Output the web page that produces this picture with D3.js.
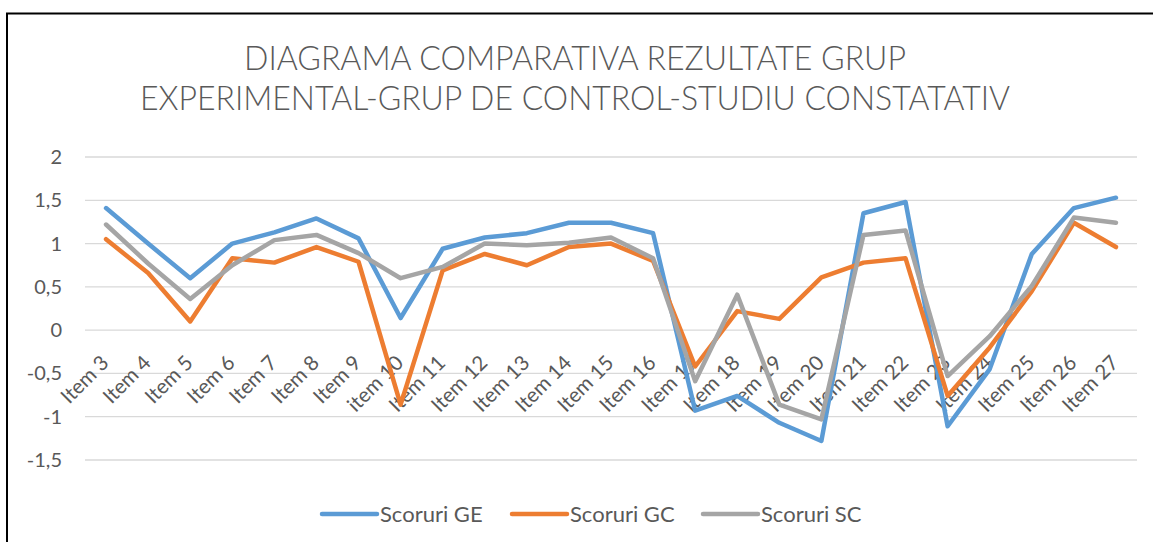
<!DOCTYPE html>
<html>
<head>
<meta charset="utf-8">
<script src="https://cdn.jsdelivr.net/npm/d3@7"></script>
<style>
  body { margin: 0; background: #fff; }
  text { font-family: Lato, "Open Sans", sans-serif; fill: #595959; }
</style>
</head>
<body>
<svg id="chart" width="1153" height="542"></svg>
<script>
const categories = ["Item 3", "Item 4", "Item 5", "Item 6", "Item 7", "Item 8", "Item 9", "item 10",
  "Item 11", "Item 12", "Item 13", "Item 14", "Item 15", "Item 16", "Item 17", "Item 18", "Item 19",
  "Item 20", "Item 21", "Item 22", "Item 23", "Item 24", "Item 25", "Item 26", "Item 27"];

const scoruriGE = [1.41, 1.0, 0.60, 1.0, 1.13, 1.29, 1.06, 0.14, 0.94, 1.07, 1.12, 1.24, 1.24, 1.12,
  -0.93, -0.76, -1.07, -1.28, 1.35, 1.48, -1.11, -0.45, 0.88, 1.41, 1.53];
const scoruriGC = [1.05, 0.66, 0.10, 0.83, 0.78, 0.96, 0.79, -0.86, 0.69, 0.88, 0.75, 0.96, 1.0, 0.80,
  -0.42, 0.22, 0.13, 0.61, 0.78, 0.83, -0.76, -0.20, 0.45, 1.24, 0.96];
const scoruriSC = [1.22, 0.77, 0.36, 0.75, 1.04, 1.10, 0.89, 0.60, 0.73, 1.0, 0.98, 1.01, 1.07, 0.83,
  -0.59, 0.41, -0.86, -1.03, 1.10, 1.15, -0.53, -0.07, 0.51, 1.30, 1.24];

const yTicks = [2, 1.5, 1, 0.5, 0, -0.5, -1, -1.5];
const yTickLabels = ["2", "1,5", "1", "0,5", "0", "-0,5", "-1", "-1,5"];

const seriesNames = ["Scoruri GE", "Scoruri GC", "Scoruri SC"];
const seriesColors = ["#5B9BD5", "#ED7D31", "#A5A5A5"];
const titleLines = ["DIAGRAMA COMPARATIVA REZULTATE GRUP", "EXPERIMENTAL-GRUP DE CONTROL-STUDIU CONSTATATIV"];

const svg = d3.select("#chart");

// outer frame (only left and top edges visible)
svg.append("path")
  .attr("d", "M7,542 V13.5 H1153")
  .attr("fill", "none")
  .attr("stroke", "#000")
  .attr("stroke-width", 2);

// title
const titleWidths = [662, 870];
svg.selectAll("text.title")
  .data(titleLines)
  .enter()
  .append("text")
  .attr("class", "title")
  .attr("x", 575)
  .attr("y", (d, i) => 70 + i * 40)
  .attr("text-anchor", "middle")
  .attr("textLength", (d, i) => titleWidths[i])
  .attr("lengthAdjust", "spacingAndGlyphs")
  .style("font-size", "34px")
  .style("font-weight", 300)
  .text(d => d);

const x = d3.scaleBand().domain(categories).range([85, 1137]);
const y = d3.scaleLinear().domain([-1.5, 2]).range([460, 157]);
const cx = d => x(d) + x.bandwidth() / 2;

// gridlines
svg.append("g")
  .selectAll("line")
  .data(yTicks)
  .enter()
  .append("line")
  .attr("x1", 85)
  .attr("x2", 1137)
  .attr("y1", d => y(d))
  .attr("y2", d => y(d))
  .attr("stroke", "#D9D9D9")
  .attr("stroke-width", 1.3);

// y tick labels
svg.append("g")
  .selectAll("text")
  .data(yTicks)
  .enter()
  .append("text")
  .attr("x", 62)
  .attr("y", d => y(d))
  .attr("dy", "0.35em")
  .attr("text-anchor", "end")
  .style("font-size", "20px")
  .text((d, i) => yTickLabels[i]);

// category labels, rotated, hanging just under the zero line
svg.append("g")
  .selectAll("text")
  .data(categories)
  .enter()
  .append("text")
  .attr("transform", d => `translate(${cx(d) + 4},${y(0) + 34}) rotate(-45)`)
  .attr("text-anchor", "end")
  .style("font-size", "20.5px")
  .text(d => d);

// lines
const allSeries = [scoruriGE, scoruriGC, scoruriSC];
const line = d3.line()
  .x((d, i) => cx(categories[i]))
  .y(d => y(d));

svg.append("g")
  .selectAll("path")
  .data(allSeries)
  .enter()
  .append("path")
  .attr("d", line)
  .attr("fill", "none")
  .attr("stroke", (d, i) => seriesColors[i])
  .attr("stroke-width", 4.5)
  .attr("stroke-linejoin", "round")
  .attr("stroke-linecap", "round");

// legend
const legendX = [322, 512, 703];
const legend = svg.append("g")
  .selectAll("g")
  .data(seriesNames)
  .enter()
  .append("g")
  .attr("transform", (d, i) => `translate(${legendX[i]},514)`);

legend.append("line")
  .attr("x1", 0)
  .attr("x2", 55)
  .attr("stroke", (d, i) => seriesColors[i])
  .attr("stroke-width", 4.5)
  .attr("stroke-linecap", "round");

legend.append("text")
  .attr("x", 58)
  .attr("y", 8)
  .style("font-size", "22px")
  .text(d => d);
</script>
</body>
</html>
